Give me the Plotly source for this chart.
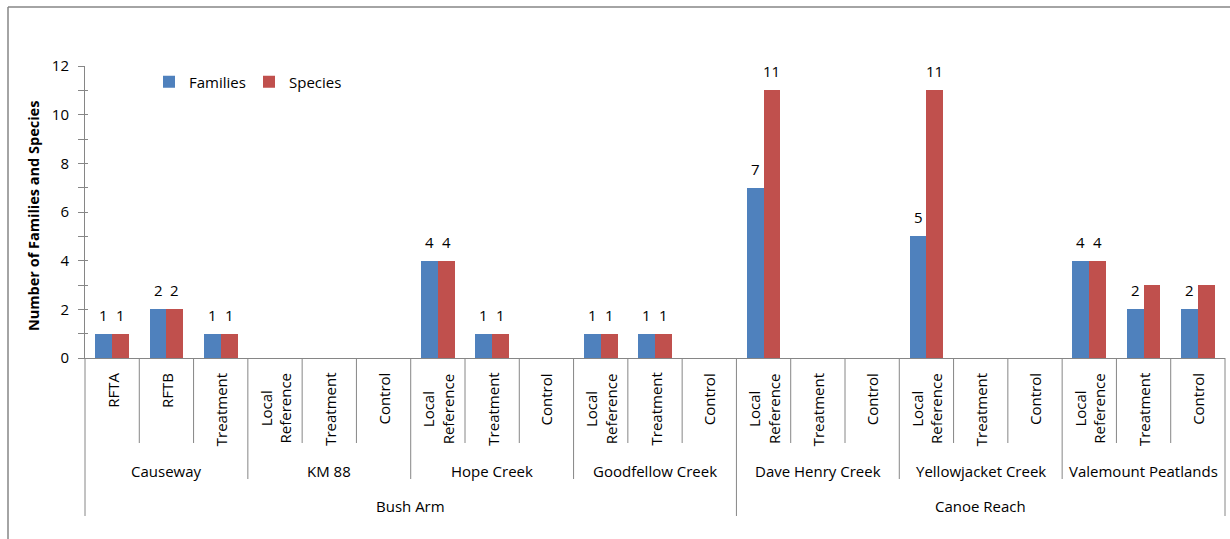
import plotly.graph_objects as go

# Three-level category structure: region > site > plot type
regions = ["Bush Arm"] * 12 + ["Canoe Reach"] * 9
sites = (["Causeway"] * 3 + ["KM 88"] * 3 + ["Hope Creek"] * 3 + ["Goodfellow Creek"] * 3
         + ["Dave Henry Creek"] * 3 + ["Yellowjacket Creek"] * 3 + ["Valemount Peatlands"] * 3)
plots = (["RFTA", "RFTB", "Treatment"]
         + ["Local<br>Reference", "Treatment", "Control"] * 6)

families = [1, 2, 1, None, None, None, 4, 1, None, 1, 1, None,
            7, None, None, 5, None, None, 4, 2, 2]
species = [1, 2, 1, None, None, None, 4, 1, None, 1, 1, None,
           11, None, None, 11, None, None, 4, 3, 3]
# which species values carry a data label
species_labelled = [True] * 19 + [False, False]

BLUE = "#4F81BD"
RED = "#C0504D"
AXIS = "#868686"
FONT = "Open Sans"

W, H = 1230, 539
L, R, T, B = 85, 5, 66, 181
PW, PH = W - L - R, H - T - B
n = len(plots)
BAR_W = 0.31


def py(pix):
    """pixel row -> paper y"""
    return (H - B - pix) / PH


def px(pix):
    """pixel column -> paper x"""
    return (pix - L) / PW


def cat_paper(pos):
    """category coordinate -> paper x"""
    return (pos + 0.5) / n


xs = list(range(n))

fig = go.Figure()
fig.add_trace(go.Bar(x=xs, y=families, name="Families", marker_color=BLUE,
                     width=BAR_W, offset=-BAR_W, marker_line_width=0))
fig.add_trace(go.Bar(x=xs, y=species, name="Species", marker_color=RED,
                     width=BAR_W, offset=0, marker_line_width=0))

annotations = []
label_font = dict(family=FONT, size=15, color="#000")

# value labels above the bars
for i, v in enumerate(families):
    if v is not None:
        annotations.append(dict(x=i - BAR_W / 2, y=v, xref="x", yref="y", text=str(v),
                                showarrow=False, yanchor="middle", yshift=19,
                                font=label_font))
for i, v in enumerate(species):
    if v is not None and species_labelled[i]:
        annotations.append(dict(x=i + BAR_W / 2, y=v, xref="x", yref="y", text=str(v),
                                showarrow=False, yanchor="middle", yshift=19,
                                font=label_font))

# level 1: plot type labels (rotated)
for i, lab in enumerate(plots):
    annotations.append(dict(x=i, y=py(371), xref="x", yref="paper", text=lab,
                            textangle=-90, showarrow=False, xanchor="center", yanchor="top",
                            align="center", font=label_font))


def groups(labels):
    out = []
    start = 0
    for i in range(1, len(labels) + 1):
        if i == len(labels) or labels[i] != labels[start]:
            out.append((labels[start], start, i - 1))
            start = i
    return out


# level 2: site labels
for name, a, b in groups(sites):
    annotations.append(dict(x=(a + b) / 2, y=py(471), xref="x", yref="paper", text=name,
                            showarrow=False, xanchor="center", yanchor="middle",
                            font=label_font))
# level 3: region labels
for name, a, b in groups(regions):
    annotations.append(dict(x=(a + b) / 2, y=py(506), xref="x", yref="paper", text=name,
                            showarrow=False, xanchor="center", yanchor="middle",
                            font=label_font))

# y-axis title
annotations.append(dict(x=px(33), y=py(216), xref="paper", yref="paper",
                        text="<b>Number of Families and Species</b>", textangle=-90,
                        showarrow=False, xanchor="center", yanchor="middle",
                        font=dict(family=FONT, size=14.5, color="#000")))

shapes = []
line_style = dict(color=AXIS, width=1)
# category dividers below the axis
for k in range(n + 1):
    pos = k - 0.5
    if k == 0 or k == n or regions[k] != regions[k - 1]:
        bottom = 516
    elif sites[k] != sites[k - 1]:
        bottom = 479
    else:
        bottom = 443
    shapes.append(dict(type="line", xref="paper", yref="paper",
                       x0=cat_paper(pos), x1=cat_paper(pos), y0=0, y1=py(bottom),
                       line=line_style))
# chart frame (left and top edges)
shapes.append(dict(type="line", xref="paper", yref="paper", x0=px(8), x1=px(8),
                   y0=py(7), y1=py(545), line=dict(color=AXIS, width=1.5)))
shapes.append(dict(type="line", xref="paper", yref="paper", x0=px(8), x1=px(1235),
                   y0=py(7), y1=py(7), line=dict(color=AXIS, width=1.5)))

fig.update_layout(
    width=W, height=H,
    margin=dict(l=L, r=R, t=T, b=B, autoexpand=False),
    paper_bgcolor="white", plot_bgcolor="white",
    showlegend=True,
    legend=dict(orientation="h", x=px(149), y=py(82), xanchor="left", yanchor="middle",
                entrywidth=55, entrywidthmode="pixels",
                bgcolor="rgba(0,0,0,0)", font=label_font,
                itemclick=False, itemdoubleclick=False),
    xaxis=dict(range=[-0.5, n - 0.5], showticklabels=False, ticks="", showgrid=False,
               zeroline=False, showline=True, linecolor=AXIS, linewidth=1, fixedrange=True),
    yaxis=dict(range=[0, 12], dtick=2, tick0=0, ticks="outside", ticklen=6, tickcolor=AXIS,
               showgrid=False, zeroline=False, showline=True, linecolor=AXIS, linewidth=1,
               ticklabelstandoff=6,
               tickfont=label_font,
               minor=dict(dtick=1, ticks="outside", ticklen=6, tickcolor=AXIS, showgrid=False)),
    yaxis2=dict(range=[0, 12], overlaying="y", side="left", dtick=1, tick0=0,
                ticks="inside", ticklen=3, tickcolor=AXIS, showticklabels=False,
                showgrid=False, zeroline=False, showline=False),
    annotations=annotations,
    shapes=shapes,
    bargap=0, barmode="overlay",
)
# invisible trace so the inside tick overlay axis is drawn
fig.add_trace(go.Scatter(x=[0], y=[0], yaxis="y2", mode="markers",
                         marker=dict(opacity=0), showlegend=False, hoverinfo="skip"))

fig.write_html("out.html")
